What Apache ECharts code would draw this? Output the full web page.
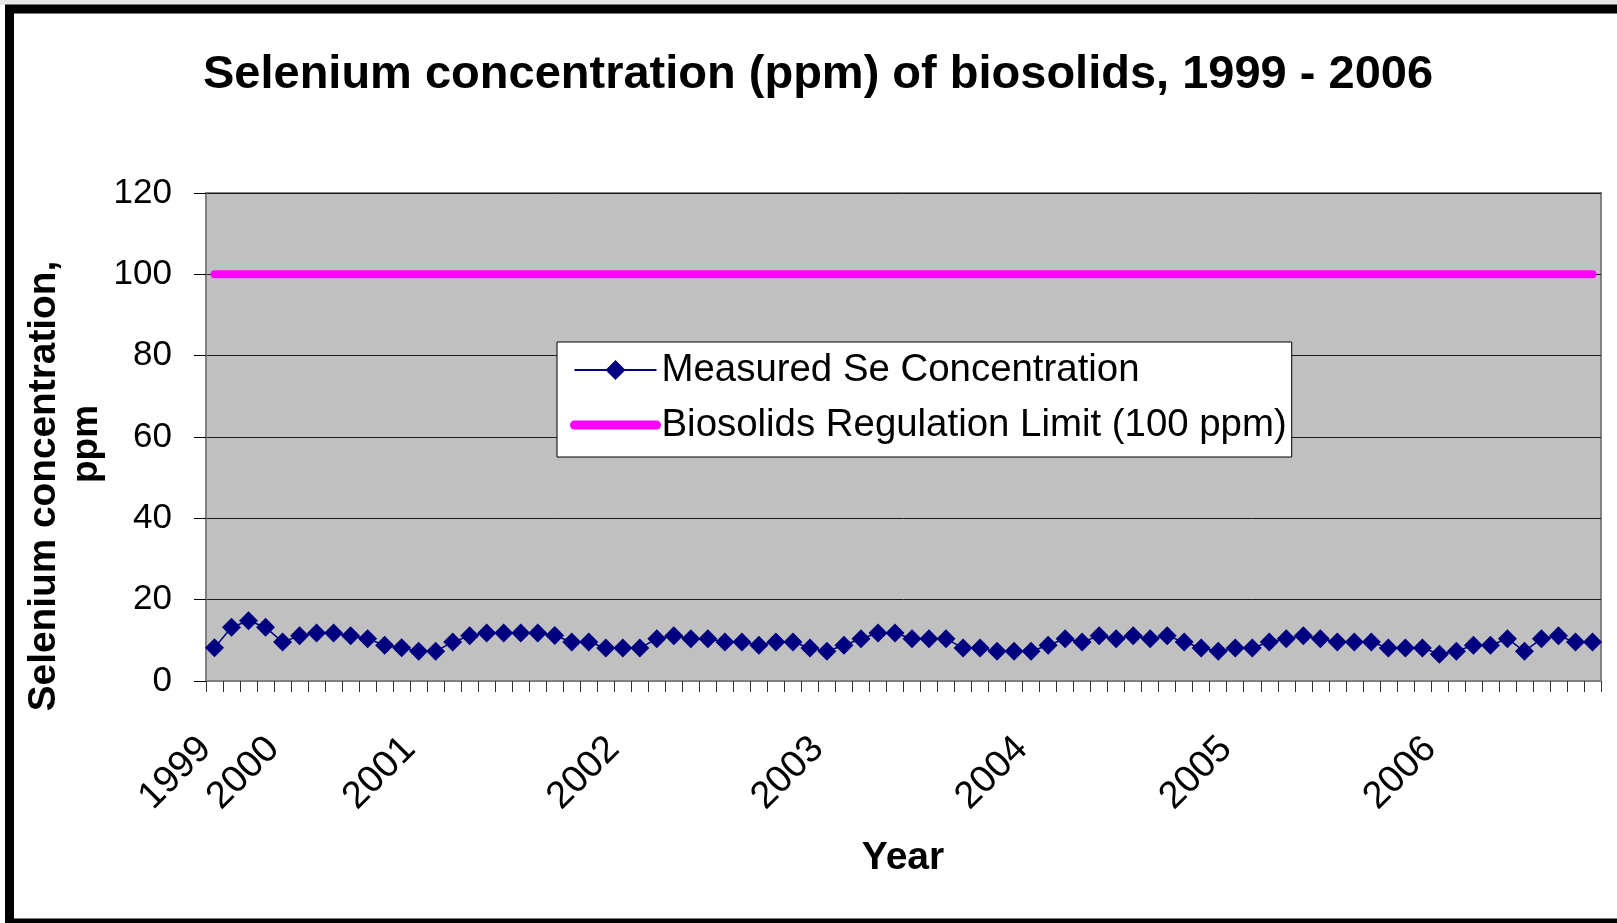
<!DOCTYPE html>
<html>
<head>
<meta charset="utf-8">
<script src="https://cdn.jsdelivr.net/npm/echarts@6/dist/echarts.min.js"></script>
<style>
html,body{margin:0;padding:0;background:#fff;}
#chart{width:1617px;height:923px;}
</style>
</head>
<body>
<div id="chart"></div>
<script>
// Category labels (one per monthly sample; year shown at its first sample)
const categories = [
  '1999','','','','2000','','','','','','','',
  '2001','','','','','','','','','','','',
  '2002','','','','','','','','','','','',
  '2003','','','','','','','','','','','',
  '2004','','','','','','','','','','','',
  '2005','','','','','','','','','','','',
  '2006','','','','','','','','',''
];
// Measured selenium concentration, ppm
const seValues = [
  8.2, 13.2, 14.8, 13.2, 9.6, 11.1, 11.8, 11.8, 11.1, 10.4, 8.8, 8.2,
  7.3, 7.3, 9.6, 11.1, 11.8, 11.8, 11.8, 11.8, 11.2, 9.6, 9.6, 8.1,
  8.1, 8.1, 10.4, 11.1, 10.4, 10.4, 9.6, 9.6, 8.8, 9.6, 9.6, 8.1,
  7.3, 8.8, 10.4, 11.8, 11.8, 10.4, 10.4, 10.4, 8.1, 8.1, 7.3, 7.3,
  7.3, 8.8, 10.4, 9.6, 11.1, 10.4, 11.1, 10.4, 11.1, 9.6, 8.1, 7.3,
  8.1, 8.1, 9.6, 10.4, 11.1, 10.4, 9.6, 9.6, 9.6, 8.1, 8.1, 8.1,
  6.6, 7.3, 8.8, 8.8, 10.4, 7.3, 10.4, 11.1, 9.6, 9.6
];
// Regulation limit, ppm
const limitValue = 100;
const limitValues = categories.map(() => limitValue);
const yTicks = [0, 20, 40, 60, 80, 100, 120];

const FONT = '"Liberation Sans", Arial, sans-serif';
const chart = echarts.init(document.getElementById('chart'), null, {renderer: 'canvas'});
chart.setOption({
  animation: false,
  backgroundColor: '#ffffff',
  grid: {
    left: 206, right: 16, top: 193, bottom: 242,
    show: true, backgroundColor: '#C0C0C0', borderColor: '#808080', borderWidth: 2,
    containLabel: false, outerBoundsMode: 'none'
  },
  legend: {
    show: true, orient: 'vertical', left: 557, top: 342,
    backgroundColor: '#ffffff', borderColor: '#000000', borderWidth: 1,
    padding: [9, 5, 13, 13], itemGap: 17, itemWidth: 82, itemHeight: 25,
    textStyle: {fontFamily: FONT, fontSize: 38.4, color: '#000'},
    data: [
      {name: 'Measured Se Concentration', lineStyle: {width: 2, color: '#000080'}},
      {name: 'Biosolids Regulation Limit (100 ppm)', itemStyle: {color: 'rgba(0,0,0,0)'},
        lineStyle: {width: 9, color: '#FF00FF', cap: 'round'}}
    ]
  },
  xAxis: {
    type: 'category', data: categories, boundaryGap: true,
    axisLine: {show: true, lineStyle: {color: '#808080', width: 2}},
    axisTick: {show: true, interval: 0, length: 11, inside: false, lineStyle: {color: '#333', width: 1}},
    axisLabel: {interval: 0, rotate: 45, margin: 53, padding: [0, 13, 0, 0],
      fontFamily: FONT, fontSize: 38, color: '#000'},
    splitLine: {show: false}
  },
  yAxis: {
    type: 'value', min: yTicks[0], max: yTicks[yTicks.length - 1], interval: 20,
    axisLine: {show: true, lineStyle: {color: '#808080', width: 2}},
    axisTick: {show: true, length: 12, inside: false, lineStyle: {color: '#000', width: 1}},
    axisLabel: {margin: 34, fontFamily: FONT, fontSize: 35, color: '#000'},
    splitLine: {show: true, lineStyle: {color: '#1a1a1a', width: 1}}
  },
  series: [
    {
      name: 'Measured Se Concentration', type: 'line', data: seValues,
      symbol: 'diamond', symbolSize: 19,
      lineStyle: {color: '#000080', width: 1.5},
      itemStyle: {color: '#000080'},
      z: 3
    },
    {
      name: 'Biosolids Regulation Limit (100 ppm)', type: 'line', data: limitValues,
      symbol: 'none', showSymbol: false,
      lineStyle: {color: '#FF00FF', width: 8, cap: 'round'},
      itemStyle: {color: '#FF00FF'},
      z: 2
    }
  ],
  graphic: [
    {type: 'rect', silent: true, shape: {x: 0, y: 0, width: 1617, height: 5}, style: {fill: '#e6e6e6'}},
    {type: 'rect', silent: true, shape: {x: 9.5, y: 9, width: 1700, height: 914},
      style: {fill: null, stroke: '#000', lineWidth: 9}},
    {type: 'text', silent: true, x: 818, y: 75,
      style: {text: 'Selenium concentration (ppm) of biosolids, 1999 - 2006', fontFamily: FONT,
        fontWeight: 'bold', fontSize: 47, fill: '#000', align: 'center', verticalAlign: 'middle'}},
    {type: 'text', silent: true, x: 44, y: 486, rotation: Math.PI / 2,
      style: {text: 'Selenium concentration,', fontFamily: FONT, fontWeight: 'bold', fontSize: 38.8,
        fill: '#000', align: 'center', verticalAlign: 'middle'}},
    {type: 'text', silent: true, x: 87, y: 444, rotation: Math.PI / 2,
      style: {text: 'ppm', fontFamily: FONT, fontWeight: 'bold', fontSize: 37,
        fill: '#000', align: 'center', verticalAlign: 'middle'}},
    {type: 'text', silent: true, x: 903, y: 858,
      style: {text: 'Year', fontFamily: FONT, fontWeight: 'bold', fontSize: 39,
        fill: '#000', align: 'center', verticalAlign: 'middle'}}
  ]
});
</script>
</body>
</html>
